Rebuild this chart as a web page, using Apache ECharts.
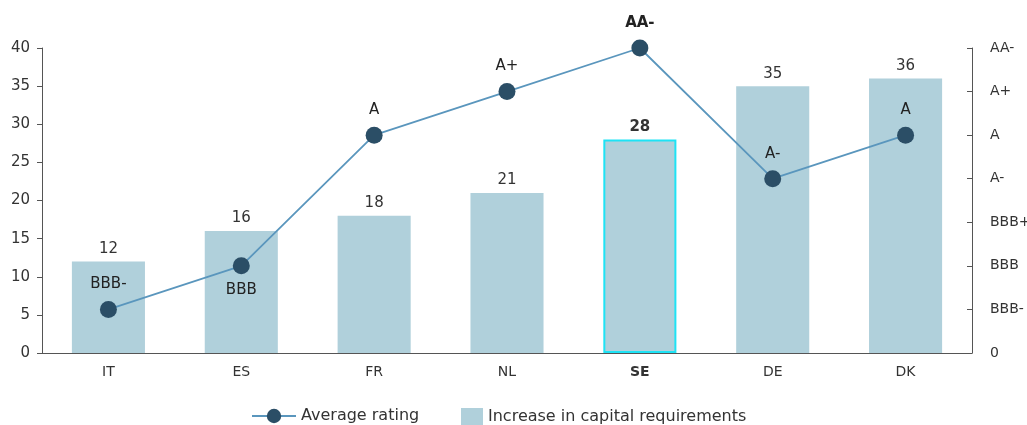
<!DOCTYPE html>
<html>
<head>
<meta charset="utf-8">
<script src="https://cdn.jsdelivr.net/npm/echarts@6/dist/echarts.min.js"></script>
<style>
	html, body { margin: 0; padding: 0; background: #fff; }
	#chart { width: 1027px; height: 425px; }
</style>
</head>
<body>
<div id="chart"></div>
<script>
	const countries = ["IT", "ES", "FR", "NL", "SE", "DE", "DK"]
	const capitalIncrease = [12, 16, 18, 21, 28, 35, 36]
	// rating position on the right axis (0 = "0", 1 = BBB-, ... 7 = AA-)
	const ratingSteps = [1, 2, 5, 6, 7, 4, 5]
	const ratingTicks = ["0", "BBB-", "BBB", "BBB+", "A-", "A", "A+", "AA-"]
	const highlight = "SE"

	const font = "DejaVu Sans"
	const chart = echarts.init(document.getElementById("chart"))

	const barData = capitalIncrease.map((v, i) => {
		if (countries[i] !== highlight) return v
		return {
			value: v,
			itemStyle: { borderColor: "#1ee3f5", borderWidth: 2 },
			label: { fontWeight: "bold" }
		}
	})

	const lineData = ratingSteps.map((v, i) => {
		const item = { value: v }
		if (countries[i] === highlight) item.label = { fontWeight: "bold" }
		if (countries[i] === "ES") item.label = { position: "bottom", distance: 8 }
		return item
	})

	const legendText = { fontSize: 16, color: "#333", fontFamily: font }

	chart.setOption({
		textStyle: { fontFamily: font },
		grid: { left: 42, right: 55, top: 48, bottom: 72, outerBoundsMode: "none", containLabel: false },
		legend: [
			{
				left: 246,
				top: 403,
				itemWidth: 44,
				itemHeight: 18,
				itemGap: 8,
				textStyle: legendText,
				data: ["Average rating"]
			},
			{
				left: 456,
				top: 403,
				itemWidth: 22,
				itemHeight: 18,
				textStyle: legendText,
				data: [{ name: "Increase in capital requirements", icon: "rect" }]
			}
		],
		xAxis: {
			type: "category",
			data: countries,
			axisLine: { lineStyle: { color: "#555", width: 1 } },
			axisTick: { show: false },
			axisLabel: {
				color: "#333",
				fontSize: 14,
				margin: 12,
				formatter: (v) => (v === highlight ? "{b|" + v + "}" : v),
				rich: { b: { fontWeight: "bold", fontSize: 14, color: "#333", fontFamily: font } }
			}
		},
		yAxis: [
			{
				type: "value",
				min: 0,
				max: 40,
				interval: 5,
				axisLine: { show: true, lineStyle: { color: "#555" } },
				axisTick: { show: true, length: 5, lineStyle: { color: "#555" } },
				splitLine: { show: false },
				axisLabel: { color: "#333", fontSize: 15, margin: 12 }
			},
			{
				type: "value",
				min: 0,
				max: 7,
				interval: 1,
				position: "right",
				axisLine: { show: true, lineStyle: { color: "#555" } },
				axisTick: { show: true, inside: true, length: 5, lineStyle: { color: "#555" } },
				splitLine: { show: false },
				axisLabel: {
					color: "#333",
					fontSize: 14,
					margin: 18,
					formatter: (v) => ratingTicks[v] || ""
				}
			}
		],
		series: [
			{
				name: "Increase in capital requirements",
				type: "bar",
				data: barData,
				barWidth: "55%",
				itemStyle: { color: "#b0d0db" },
				label: {
					show: true,
					position: "top",
					distance: 5,
					color: "#333",
					fontSize: 15
				},
				z: 1
			},
			{
				name: "Average rating",
				type: "line",
				yAxisIndex: 1,
				data: lineData,
				symbol: "circle",
				symbolSize: 17,
				lineStyle: { color: "#5a96bd", width: 1.8 },
				itemStyle: { color: "#2b4e66" },
				label: {
					show: true,
					position: "top",
					distance: 9,
					color: "#222",
					fontSize: 15,
					formatter: (p) => ratingTicks[p.value]
				},
				z: 3
			}
		]
	})
</script>
</body>
</html>
